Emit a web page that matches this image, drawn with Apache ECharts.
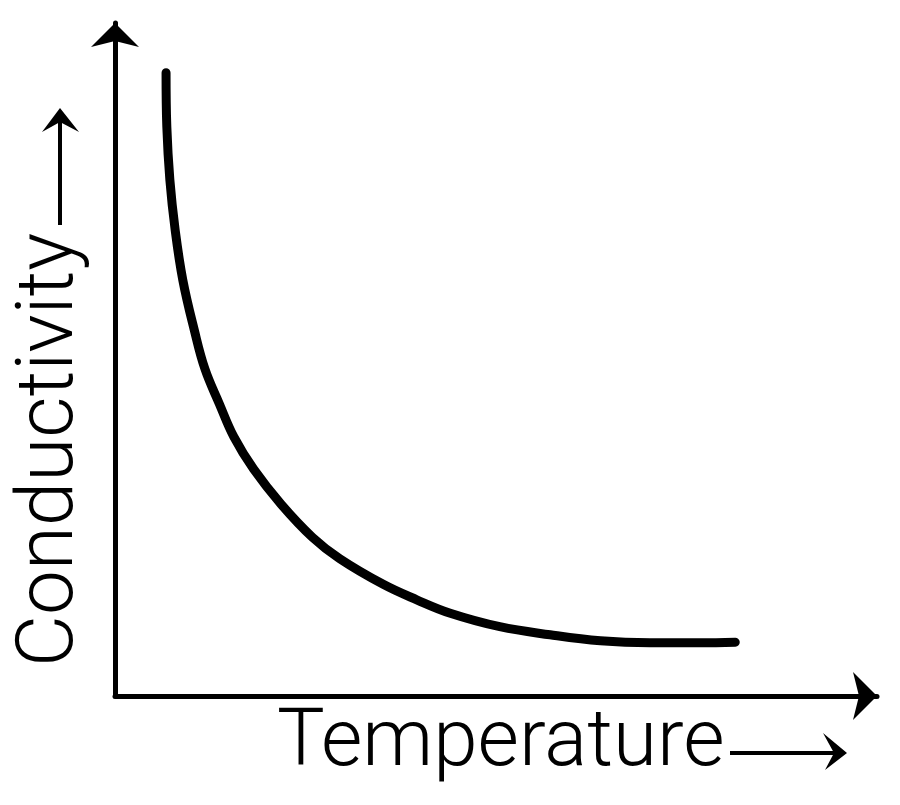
<!DOCTYPE html>
<html lang="en">
<head>
    <meta charset="UTF-8">
    <title>Conductivity vs Temperature</title>
    <script src="https://cdn.jsdelivr.net/npm/echarts@6/dist/echarts.min.js"></script>
    <style>
        html, body { margin: 0; padding: 0; background: #fff; }
    </style>
</head>
<body>
    <div id="main" style="width: 900px;height: 805px"></div>
    <script>
        // sketch curve, arbitrary units
        var temperature = [6.7, 6.8, 7.2, 7.9, 8.9, 10.4, 11.8, 13.7, 15.6, 18.2, 21.8, 25.9, 29.5, 35.2, 39.6, 44.0, 50.5, 57.1, 63.7, 70.2, 76.8, 81.4];
        var conductivity = [92.6, 84.6, 76.7, 69.2, 61.8, 54.4, 48.6, 43.4, 38.5, 33.7, 28.5, 23.6, 20.4, 16.6, 14.3, 12.3, 10.3, 9.1, 8.2, 7.9, 7.9, 8.0];
        var xName = 'Temperature';
        var yName = 'Conductivity';

        var data = temperature.map(function (t, i) { return [t, conductivity[i]]; });

        var myChart = echarts.init(document.getElementById('main'));

        var axisCommon = {
            type: 'value',
            min: 0,
            max: 100,
            axisLine: {
                show: true,
                onZero: false,
                symbol: ['none', 'arrow'],
                symbolSize: [36, 24],
                lineStyle: { color: '#000', width: 5 }
            },
            axisTick: { show: false },
            axisLabel: { show: false },
            splitLine: { show: false }
        };

        myChart.setOption({
            backgroundColor: '#fff',
            animation: false,
            grid: { left: 115, right: 23, top: 23, bottom: 109, containLabel: false },
            xAxis: axisCommon,
            yAxis: axisCommon,
            series: [{
                type: 'line',
                data: data,
                smooth: 0.4,
                symbol: 'none',
                lineStyle: { color: '#000', width: 9, cap: 'round', join: 'round' }
            }],
            graphic: [
                {
                    type: 'text',
                    x: 277, y: 745,
                    style: {
                        text: xName,
                        font: '300 80px Roboto',
                        fill: '#000',
                        textAlign: 'left',
                        textVerticalAlign: 'middle'
                    }
                },
                {
                    type: 'line',
                    shape: { x1: 730, y1: 753, x2: 840, y2: 753 },
                    style: { stroke: '#000', lineWidth: 4 }
                },
                {
                    type: 'polygon',
                    shape: { points: [[847, 753], [823, 733], [834, 753], [825, 770]] },
                    style: { fill: '#000' }
                },
                {
                    type: 'text',
                    x: 52, y: 667,
                    rotation: Math.PI / 2,
                    style: {
                        text: yName,
                        font: '300 80px Roboto',
                        fill: '#000',
                        textAlign: 'left',
                        textVerticalAlign: 'middle'
                    }
                },
                {
                    type: 'line',
                    shape: { x1: 60, y1: 225, x2: 60, y2: 115 },
                    style: { stroke: '#000', lineWidth: 4 }
                },
                {
                    type: 'polygon',
                    shape: { points: [[60, 108], [79, 132], [60, 122], [42, 132]] },
                    style: { fill: '#000' }
                }
            ]
        });
    </script>
</body>
</html>
